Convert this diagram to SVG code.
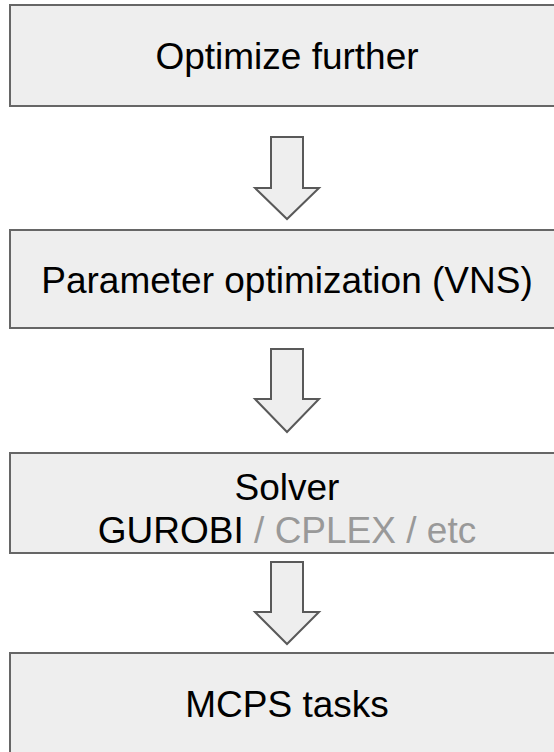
<svg xmlns="http://www.w3.org/2000/svg" width="554" height="752" viewBox="0 0 554 752">
<style>
.box{fill:#eeeeee;stroke:#666666;stroke-width:2}
.arr{fill:#eeeeee;stroke:#595959;stroke-width:2;stroke-linejoin:miter}
.t{font-family:"Liberation Sans",Arial,sans-serif;font-size:37px;fill:#000000;text-anchor:middle}
.g{fill:#999999}
</style>
<rect width="554" height="752" fill="#ffffff"/>
<g id="node-optimize">
<rect class="box" x="10" y="5" width="560" height="101"/>
<text class="t" x="287" y="69">Optimize further</text>
</g>
<g id="node-param">
<rect class="box" x="10" y="230" width="560" height="98"/>
<text class="t" x="287" y="293">Parameter optimization (VNS)</text>
</g>
<g id="node-solver">
<rect class="box" x="10" y="453" width="560" height="100"/>
<text class="t" x="287" y="500">Solver</text>
<text class="t" x="287" y="542.5">GUROBI<tspan class="g"> / CPLEX / etc</tspan></text>
</g>
<g id="node-mcps">
<rect class="box" x="10" y="653" width="560" height="110"/>
<text class="t" x="287" y="717">MCPS tasks</text>
</g>
<g id="connectors">
<polygon class="arr" points="271,137 303,137 303,188 319,188 287,219 255,188 271,188"/>
<polygon class="arr" points="271,349 303,349 303,399 319,399 287,432 255,399 271,399"/>
<polygon class="arr" points="271,562 303,562 303,612 319,612 287,644 255,612 271,612"/>
</g>
</svg>
